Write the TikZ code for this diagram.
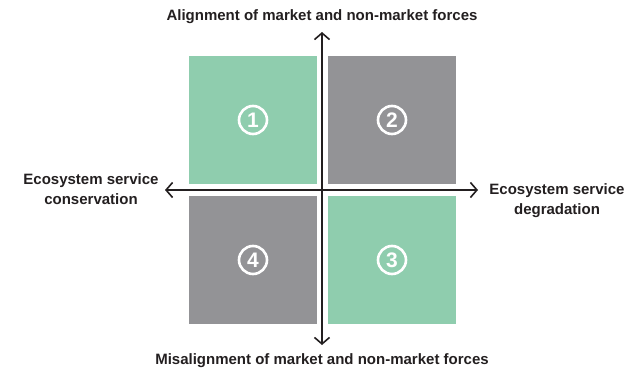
\documentclass[tikz,border=0pt]{standalone}
\usepackage{fontspec}
\setmainfont{Liberation Sans}
\usetikzlibrary{arrows.meta}
\definecolor{qgreen}{HTML}{8FCDAE}
\definecolor{qgray}{HTML}{939396}
\definecolor{axisink}{HTML}{231F20}
\begin{document}
\begin{tikzpicture}[x=1pt,y=-1pt,
    quad/.style={minimum size=128pt,inner sep=0pt},
    num/.style={circle,draw=white,line width=2.6pt,minimum size=28pt,inner sep=0pt,text=white,font=\fontsize{21}{21}\selectfont\bfseries},
    axislabel/.style={font=\fontsize{15}{20}\selectfont\bfseries,text=axisink,align=center},
    axis/.style={draw=axisink,line width=1.6pt,-{Straight Barb[length=6.5pt,width=15pt]}}]
  \useasboundingbox (0,0) rectangle (629,380);
  \foreach \n/\x/\y/\c in{1/253/120/qgreen, 2/392/120/qgray, 3/392/260/qgreen, 4/253/260/qgray}{
    \node[quad,fill=\c](Q\n) at (\x,\y) {};
    \node[num](N\n) at (Q\n) {\n};
  }
  \coordinate (O) at (322,190);
  \coordinate (AT) at (322,32);
  \coordinate (AB) at (322,345);
  \coordinate (AL) at (165,190);
  \coordinate (AR) at (478,190);
  \node[axislabel](LT) at (322,17) {Alignment of market and non-market forces};
  \node[axislabel](LB) at (322,361) {Misalignment of market and non-market forces};
  \node[axislabel](LL) at (91,189) {Ecosystem service\\conservation};
  \node[axislabel](LR) at (557,201) {Ecosystem service\\degradation};
  \foreach \e in{AT, AB, AL, AR}{
    \draw[axis](O) -- (\e);
  }
\end{tikzpicture}
\end{document}
